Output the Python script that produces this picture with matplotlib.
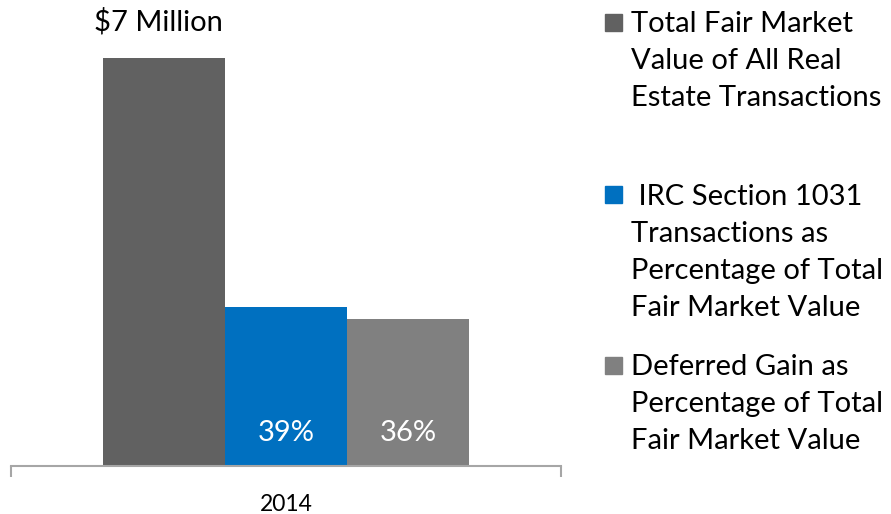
import matplotlib
matplotlib.use("Agg")
import matplotlib.pyplot as plt
from matplotlib.patches import Rectangle

plt.rcParams['font.family'] = ['Lato', 'DejaVu Sans']

categories = ["2014"]
total_value_million = [7]
pct_1031 = [39]
pct_deferred = [36]
series_labels = [
    "Total Fair Market\nValue of All Real\nEstate Transactions",
    " IRC Section 1031\nTransactions as\nPercentage of Total\nFair Market Value",
    "Deferred Gain as\nPercentage of Total\nFair Market Value",
]
colors = ["#616161", "#0070C0", "#808080"]

W, H = 891, 514
fig = plt.figure(figsize=(W / 100, H / 100), dpi=100)
ax = fig.add_axes([11 / W, (H - 466) / H, (561 - 11) / W, (466 - 58) / H])

bw = 0.222
offsets = [-bw, 0, bw]
x0 = 0
heights = [total_value_million[0],
           total_value_million[0] * pct_1031[0] / 100,
           total_value_million[0] * pct_deferred[0] / 100]
for off, h, c in zip(offsets, heights, colors):
    ax.bar(x0 + off, h, width=bw, color=c, linewidth=0)

ax.set_xlim(-0.5, 0.5)
ax.set_ylim(0, total_value_million[0])
for s in ["top", "left", "right"]:
    ax.spines[s].set_visible(False)
ax.spines["bottom"].set_color("#A6A6A6")
ax.spines["bottom"].set_linewidth(1.5)
ax.set_yticks([])
ax.set_xticks([0])
ax.set_xticklabels(categories, fontsize=16.5)
ax.tick_params(axis="x", which="major", length=0, pad=20)
ax.set_xticks([-0.5, 0.5], minor=True)
ax.tick_params(axis="x", which="minor", length=8, width=1.5, color="#A6A6A6")

ax.text(x0 + offsets[0] - 0.01, total_value_million[0] * (466 - 22) / (466 - 58),
        f"${total_value_million[0]} Million",
        ha="center", va="center", fontsize=21, clip_on=False)
for off, p in zip(offsets[1:], [pct_1031[0], pct_deferred[0]]):
    ax.text(x0 + off, total_value_million[0] * (466 - 433) / (466 - 58), f"{p}%",
            ha="center", va="center", fontsize=21, color="white")

# legend
leg_y = [22, 195, 365]
for y, lab, c in zip(leg_y, series_labels, colors):
    fig.patches.append(Rectangle((605 / W, 1 - (y + 8.5) / H), 17 / W, 17 / H,
                                 transform=fig.transFigure, color=c))
    fig.text(631 / W, 1 - (y - 11) / H, lab, ha="left", va="top", fontsize=21,
             linespacing=1.52)

fig.savefig("out.png", dpi=100)
